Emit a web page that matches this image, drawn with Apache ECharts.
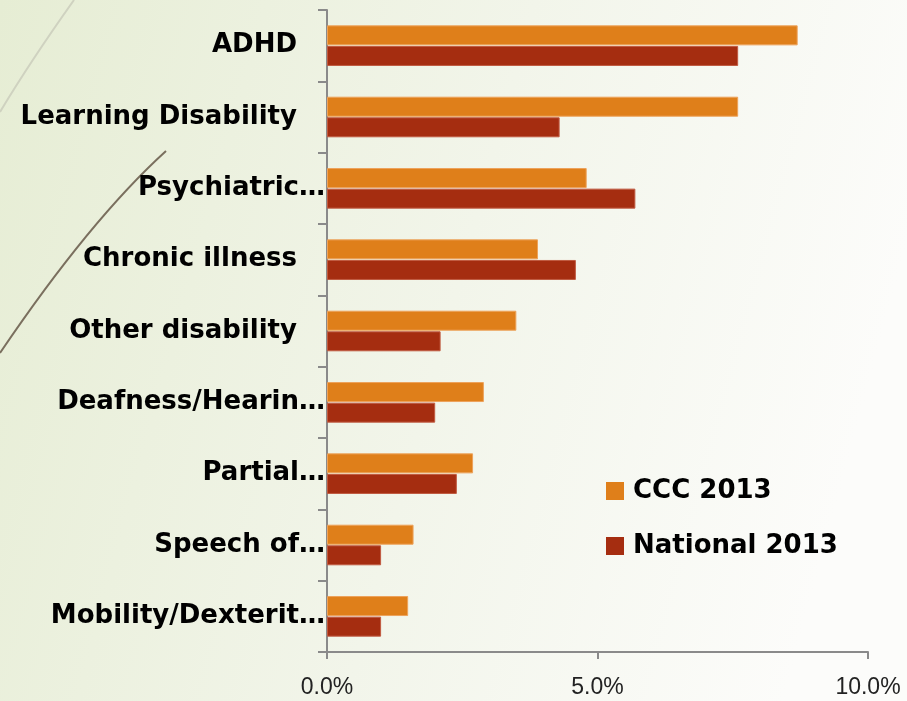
<!DOCTYPE html>
<html>
<head>
<meta charset="utf-8">
<script src="https://cdn.jsdelivr.net/npm/echarts@6/dist/echarts.min.js"></script>
<style>
  html, body { margin: 0; padding: 0; }
  #main { width: 907px; height: 701px; }
</style>
</head>
<body>
<div id="main"></div>
<script type="text/javascript">
    // categories, top to bottom as drawn
    var categories = ['ADHD', 'Learning Disability', 'Psychiatric…', 'Chronic illness', 'Other disability',
        'Deafness/Hearin…', 'Partial…', 'Speech of…', 'Mobility/Dexterit…'];
    var ccc2013 = [8.7, 7.6, 4.8, 3.9, 3.5, 2.9, 2.7, 1.6, 1.5];
    var national2013 = [7.6, 4.3, 5.7, 4.6, 2.1, 2.0, 2.4, 1.0, 1.0];
    var xTicks = [0, 5, 10];

    var labelFont = 'DejaVu Sans';

    var myChart = echarts.init(document.getElementById('main'));
    var option = {
        backgroundColor: {
            type: 'linear', x: 0, y: 0, x2: 1, y2: 0.35,
            colorStops: [
                {offset: 0, color: '#e6edd4'},
                {offset: 0.55, color: '#f2f5ea'},
                {offset: 1, color: '#fcfcfa'}
            ]
        },
        graphic: [
            {
                type: 'bezierCurve', silent: true,
                shape: {x1: 0, y1: 112, x2: 74, y2: 0, cpx1: 30, cpy1: 62},
                style: {stroke: '#cfd2c0', lineWidth: 2}
            },
            {
                type: 'bezierCurve', silent: true,
                shape: {x1: 166, y1: 151, x2: 0, y2: 353, cpx1: 90, cpy1: 220},
                style: {stroke: '#7a6f5e', lineWidth: 2}
            }
        ],
        grid: {
            left: 327,
            right: 39,
            top: 10,
            bottom: 49,
            containLabel: false
        },
        legend: {
            orient: 'vertical',
            left: 606,
            top: 478,
            padding: 0,
            itemWidth: 18,
            itemHeight: 18,
            itemGap: 29,
            icon: 'rect',
            itemStyle: {borderWidth: 0},
            textStyle: {
                fontFamily: labelFont,
                fontWeight: 'bold',
                fontSize: 26,
                color: '#000',
                padding: [0, 0, 0, 4]
            },
            data: ['CCC 2013', 'National 2013']
        },
        xAxis: {
            type: 'value',
            min: 0,
            max: 10,
            interval: 5,
            splitLine: {show: false},
            axisLine: {show: true, lineStyle: {color: '#8a8a8a', width: 2}},
            axisTick: {show: true, length: 7, lineStyle: {color: '#8a8a8a', width: 2}},
            axisLabel: {
                margin: 24,
                fontFamily: 'Liberation Sans',
                fontSize: 23,
                color: '#222',
                formatter: function (v) {
                    return xTicks.indexOf(v) >= 0 ? v.toFixed(1) + '%' : '';
                }
            }
        },
        yAxis: {
            type: 'category',
            inverse: true,
            data: categories,
            axisLine: {show: true, lineStyle: {color: '#8a8a8a', width: 2}},
            axisTick: {show: true, length: 9, lineStyle: {color: '#8a8a8a', width: 2}},
            axisLabel: {
                margin: 2,
                color: '#000',
                formatter: function (v) {
                    return v.slice(-1) === '…' ? '{t|' + v + '}' : '{n|' + v + '}';
                },
                rich: {
                    t: {fontFamily: labelFont, fontWeight: 'bold', fontSize: 26, color: '#000', padding: [0, 0, 0, 0]},
                    n: {fontFamily: labelFont, fontWeight: 'bold', fontSize: 26, color: '#000', padding: [0, 28, 0, 0]}
                }
            }
        },
        series: [
            {
                name: 'CCC 2013',
                type: 'bar',
                data: ccc2013,
                barWidth: 20,
                barGap: '3%',
                itemStyle: {color: '#df7f1a', borderColor: '#eda25a', borderWidth: 1}
            },
            {
                name: 'National 2013',
                type: 'bar',
                data: national2013,
                barWidth: 20,
                itemStyle: {color: '#a52d10', borderColor: '#c05a40', borderWidth: 1}
            }
        ]
    };
    myChart.setOption(option);
</script>
</body>
</html>
